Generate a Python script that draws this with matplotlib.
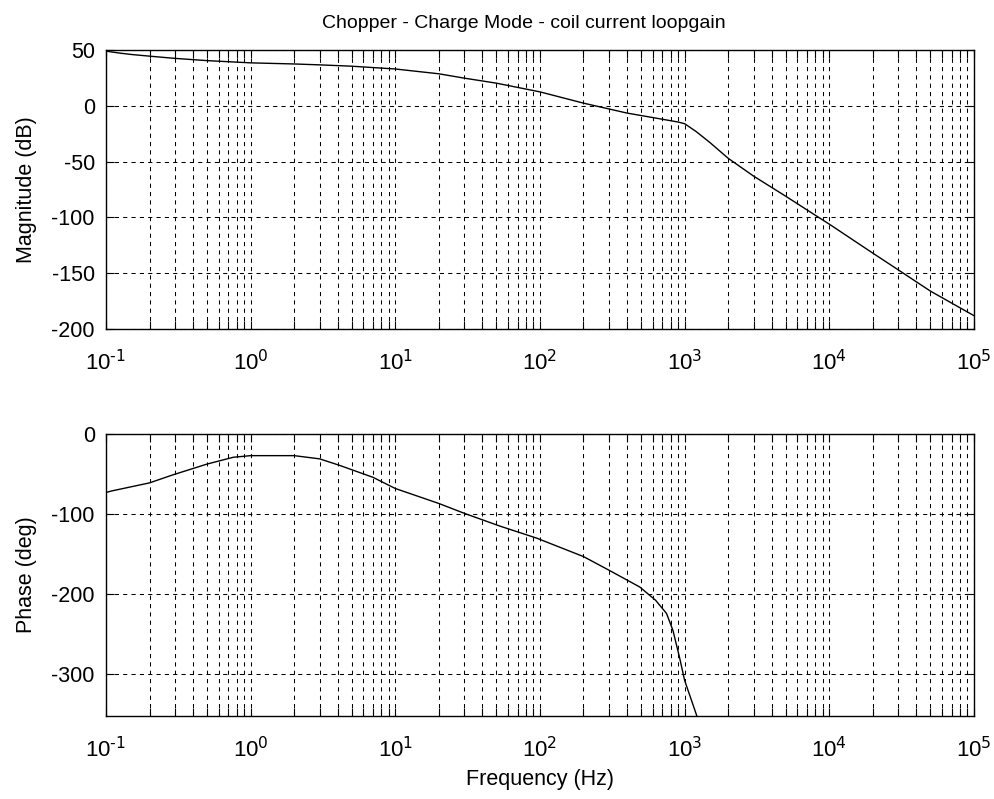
import matplotlib
matplotlib.use("Agg")
import matplotlib.pyplot as plt
from matplotlib.ticker import LogLocator, NullFormatter, NullLocator

plt.rcParams['font.family'] = ['Liberation Sans', 'DejaVu Sans']
plt.rcParams['mathtext.default'] = 'regular'
plt.rcParams['axes.unicode_minus'] = False

# magnitude of the loop gain
mag_freq = [0.1, 0.125, 0.15, 0.2, 0.3, 0.5, 1, 2, 3, 5, 10, 20, 30, 50, 100,
            200, 400, 700, 900, 1000, 1200, 1500, 2000, 3000, 5000, 8000,
            10000, 20000, 30000, 50000, 100000]
mag_db = [49, 47.2, 46, 44.5, 42.5, 40.5, 38.5, 37.5, 36.7, 35.5, 33, 28.7,
          24.8, 20.3, 12.5, 2.4, -6.5, -12, -14.5, -16, -23, -33, -47, -63,
          -81, -98, -106, -132, -147, -166, -188]

# phase, it leaves the bottom of the axes just above 1 kHz
phase_freq = [0.1, 0.11, 0.2, 0.29, 0.5, 0.76, 1, 2, 3, 4.1, 7, 10, 20, 30,
              53, 95, 200, 300, 490, 630, 750, 830, 920, 1000, 1210, 1300]
phase_deg = [-73, -71, -61, -51, -37.5, -29, -27, -27, -31, -39, -54, -68,
             -86.7, -99, -115, -130, -153, -170, -191, -207.5, -224, -245,
             -278, -307.5, -351, -367]

freq_ticks = [0.1, 1, 10, 100, 1000, 10000, 100000]
freq_exps = ['-1', '0', '1', '2', '3', '4', '5']
freq_labels = [r'$10^{\text{%s}}$' % e for e in freq_exps]

fig = plt.figure(figsize=(9.94, 7.99), dpi=100)
ax1 = fig.add_axes([0.1066, 0.5882, 0.8732, 0.3492])
ax2 = fig.add_axes([0.1066, 0.1039, 0.8732, 0.3529])

ax1.semilogx(mag_freq, mag_db, color='black', lw=1.0)
ax2.semilogx(phase_freq, phase_deg, color='black', lw=1.0)

ax1.set_ylim(-200, 50)
ax1.set_yticks([50, 0, -50, -100, -150, -200])
ax2.set_ylim(-352, 0)
ax2.set_yticks([0, -100, -200, -300])

for ax in (ax1, ax2):
    ax.set_xlim(0.1, 1e5)
    ax.set_xticks(freq_ticks)
    ax.set_xticklabels(freq_labels)
    ax.xaxis.set_minor_locator(LogLocator(base=10, subs=range(2, 10), numticks=20))
    ax.xaxis.set_minor_formatter(NullFormatter())
    ax.yaxis.set_minor_locator(NullLocator())
    ax.tick_params(which='both', direction='in', top=True, right=True,
                   length=6, width=0.8, color='black')
    ax.tick_params(axis='x', which='major', pad=15, labelsize=16)
    ax.tick_params(axis='y', which='major', pad=8, labelsize=15.5)
    ax.grid(which='both', axis='x', color='black', lw=0.75, linestyle=(0, (4, 4)))
    ax.grid(which='major', axis='y', color='black', lw=0.75, linestyle=(0, (4, 4)))
    for s in ax.spines.values():
        s.set_linewidth(1.0)

ax1.set_ylabel("Magnitude (dB)", fontsize=15.5, labelpad=10)
ax2.set_ylabel("Phase (deg)", fontsize=15.5, labelpad=10)
ax2.set_xlabel("Frequency (Hz)", fontsize=15.5, labelpad=5)
ax1.set_title("Chopper - Charge Mode - coil current loopgain", fontsize=14,
              pad=16, x=0.481)

fig.savefig("out.png", dpi=100)
